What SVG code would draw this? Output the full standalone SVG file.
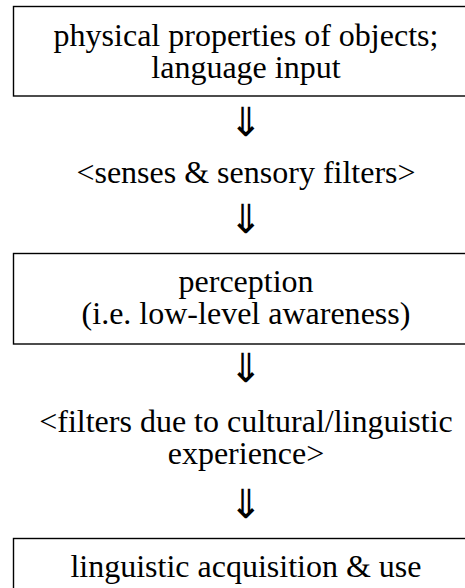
<svg xmlns="http://www.w3.org/2000/svg" width="465" height="588" viewBox="0 0 465 588">
<rect width="465" height="588" fill="#fff"/>
<g id="n1">
<rect x="13.5" y="6.5" width="470" height="89.5" fill="#fff" stroke="#000" stroke-width="1.4"/>
<text x="53.6" y="46" font-family="Liberation Serif" font-size="32" textLength="384.8" lengthAdjust="spacing">physical properties of objects;</text>
<text x="151.3" y="78" font-family="Liberation Serif" font-size="32" textLength="189.3" lengthAdjust="spacing">language input</text>
</g>
<g id="n2">
<text x="76.4" y="183" font-family="Liberation Serif" font-size="32" textLength="339.2" lengthAdjust="spacing">&lt;senses &amp; sensory filters&gt;</text>
</g>
<g id="n3">
<rect x="13.5" y="253.5" width="470" height="90.5" fill="#fff" stroke="#000" stroke-width="1.4"/>
<text x="178.5" y="292" font-family="Liberation Serif" font-size="32" textLength="135.1" lengthAdjust="spacing">perception</text>
<text x="81.6" y="324" font-family="Liberation Serif" font-size="32" textLength="328.8" lengthAdjust="spacing">(i.e. low-level awareness)</text>
</g>
<g id="n4">
<text x="39.2" y="432" font-family="Liberation Serif" font-size="32" textLength="413.6" lengthAdjust="spacing">&lt;filters due to cultural/linguistic</text>
<text x="167.7" y="464" font-family="Liberation Serif" font-size="32" textLength="156.6" lengthAdjust="spacing">experience&gt;</text>
</g>
<g id="n5">
<rect x="13.5" y="538.5" width="470" height="80" fill="#fff" stroke="#000" stroke-width="1.4"/>
<text x="70.4" y="577" font-family="Liberation Serif" font-size="32" textLength="351.1" lengthAdjust="spacing">linguistic acquisition &amp; use</text>
</g>
<g id="connectors">
<text x="246" y="136" font-family="Liberation Serif" font-size="40" text-anchor="middle">⇓</text>
<text x="246" y="233" font-family="Liberation Serif" font-size="40" text-anchor="middle">⇓</text>
<text x="246" y="382" font-family="Liberation Serif" font-size="40" text-anchor="middle">⇓</text>
<text x="246" y="518" font-family="Liberation Serif" font-size="40" text-anchor="middle">⇓</text>
</g>
</svg>
